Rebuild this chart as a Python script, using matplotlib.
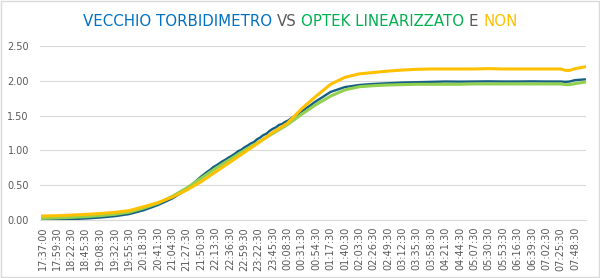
import matplotlib
matplotlib.use("Agg")
import matplotlib.pyplot as plt
from matplotlib.patches import Rectangle
from matplotlib.offsetbox import TextArea, HPacker, AnchoredOffsetbox

# category labels shown on the x axis
tick_labels = ["17:37:00", "17:59:30", "18:22:30", "18:45:30", "19:08:30", "19:32:30",
               "19:55:30", "20:18:30", "20:41:30", "21:04:30", "21:27:30", "21:50:30",
               "22:13:30", "22:36:30", "22:59:30", "23:22:30", "23:45:30", "00:08:30",
               "00:31:30", "00:54:30", "01:17:30", "01:40:30", "02:03:30", "02:26:30",
               "02:49:30", "03:12:30", "03:35:30", "03:58:30", "04:21:30", "04:44:30",
               "05:07:30", "05:30:30", "05:53:30", "06:16:30", "06:39:30", "07:02:30",
               "07:25:30", "07:48:30"]

# sample times for the two smoother series
times_main = tick_labels[:37] + ["07:33:00", "07:40:00", "07:48:30", "08:04:00"]

optek = [0.024, 0.030, 0.038, 0.048, 0.062, 0.082, 0.112, 0.170, 0.240, 0.340,
         0.460, 0.600, 0.740, 0.870, 1.000, 1.120, 1.245, 1.370, 1.520, 1.660,
         1.780, 1.870, 1.915, 1.930, 1.940, 1.945, 1.950, 1.950, 1.950, 1.950,
         1.955, 1.955, 1.955, 1.955, 1.955, 1.955, 1.955, 1.945, 1.945, 1.960,
         1.980]

non = [0.057, 0.062, 0.070, 0.080, 0.093, 0.110, 0.135, 0.190, 0.250, 0.330,
       0.430, 0.550, 0.690, 0.830, 0.970, 1.110, 1.260, 1.390, 1.600, 1.780,
       1.950, 2.050, 2.100, 2.120, 2.140, 2.155, 2.165, 2.170, 2.170, 2.170,
       2.170, 2.175, 2.170, 2.170, 2.170, 2.170, 2.170, 2.150, 2.150, 2.175,
       2.200]

# old turbidimeter: noisier, sampled more densely in the rising part
times_old = (tick_labels[:11] +
             ["21:50", "21:55", "22:00", "22:05", "22:10", "22:15", "22:20", "22:25",
              "22:30", "22:35", "22:40", "22:45", "22:50", "22:55", "23:00", "23:05",
              "23:10", "23:15", "23:20", "23:25", "23:30", "23:35", "23:40", "23:45",
              "23:50", "23:55", "00:00", "00:05", "00:10", "00:15", "00:20", "00:25",
              "00:30", "00:35", "00:40", "00:45", "00:50", "00:55"] +
             tick_labels[20:37] + ["07:33:00", "07:40:00", "07:48:30", "08:04:00"])

vecchio = ([0.000, 0.005, 0.012, 0.022, 0.035, 0.055, 0.085, 0.140, 0.215, 0.310, 0.440] +
           [0.620, 0.655, 0.690, 0.720, 0.760, 0.785, 0.815, 0.845, 0.870, 0.900,
            0.925, 0.955, 0.990, 1.010, 1.045, 1.070, 1.100, 1.120, 1.160, 1.185,
            1.220, 1.240, 1.280, 1.310, 1.330, 1.365, 1.380, 1.410, 1.430, 1.465,
            1.490, 1.520, 1.555, 1.580, 1.615, 1.645, 1.680, 1.710] +
           [1.84, 1.91, 1.94, 1.955, 1.965, 1.975, 1.980, 1.985, 1.990, 1.988,
            1.990, 1.992, 1.990, 1.990, 1.992, 1.990, 1.990] +
           [1.985, 1.990, 2.010, 2.020])


def to_minutes(s):
    parts = [int(p) for p in s.split(":")]
    h, m = parts[0], parts[1]
    sec = parts[2] if len(parts) > 2 else 0
    if h < 12:
        h += 24
    return (h * 60 + m + sec / 60.0) - (17 * 60 + 37)


fig = plt.figure(figsize=(6.0, 2.78), dpi=100)
ax = fig.add_axes([0.0667, 0.2086, 0.91, 0.6259])

ax.plot([to_minutes(t) for t in times_old], vecchio, color="#156082", lw=1.7, zorder=3)
ax.plot([to_minutes(t) for t in times_main], optek, color="#92D050", lw=2.2, zorder=4)
ax.plot([to_minutes(t) for t in times_main], non, color="#FFC000", lw=2.2, zorder=5)

ax.set_xlim(-4, 869)
ax.set_ylim(0, 2.5)
ax.set_yticks([0, 0.5, 1.0, 1.5, 2.0, 2.5])
ax.set_yticklabels(["%.2f" % v for v in [0, 0.5, 1.0, 1.5, 2.0, 2.5]])
ax.set_xticks([to_minutes(t) for t in tick_labels])
ax.set_xticklabels(tick_labels, rotation=90)
ax.tick_params(axis="both", length=0, labelsize=7, labelcolor="#595959")
ax.tick_params(axis="y", pad=8)
ax.tick_params(axis="x", pad=5)
ax.grid(axis="y", color="#D9D9D9", lw=0.8)
ax.set_axisbelow(True)
for side in ["top", "right", "left"]:
    ax.spines[side].set_visible(False)
ax.spines["bottom"].set_color("#D9D9D9")
ax.spines["bottom"].set_linewidth(0.8)

# multi-coloured title
pieces = [("VECCHIO TORBIDIMETRO", "#0070C0"), ("VS", "#595959"),
          ("OPTEK LINEARIZZATO", "#00B050"), ("E", "#595959"), ("NON", "#FFC000")]
boxes = [TextArea(txt, textprops=dict(color=c, fontsize=10.8)) for txt, c in pieces]
title = HPacker(children=boxes, align="baseline", pad=0, sep=3.4)
anchored = AnchoredOffsetbox(loc="center", child=title, pad=0, frameon=False,
                             bbox_to_anchor=(0.5, 1 - 21 / 278),
                             bbox_transform=fig.transFigure, borderpad=0)
fig.add_artist(anchored)

fig.patches.append(Rectangle((0.001, 0.002), 0.997, 0.995, transform=fig.transFigure,
                             fill=False, ec="#D9D9D9", lw=1))

plt.savefig("out.png", dpi=100)
